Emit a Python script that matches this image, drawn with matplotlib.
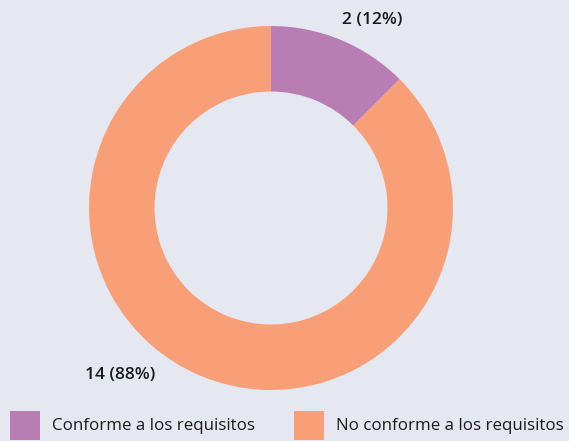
import matplotlib.pyplot as plt
from matplotlib.patches import Patch

# data
categories = ['Conforme a los requisitos', 'No conforme a los requisitos']
counts = [2, 14]
colors = ['#b87db2', '#f99f78']
labels = ['2 (12%)', '14 (88%)']

bg = '#e5e8f0'
plt.rcParams['font.family'] = ['Open Sans', 'DejaVu Sans']

fig = plt.figure(figsize=(5.69, 4.41), dpi=100, facecolor=bg)
W, H = 569, 441
cx, cy, r = 271, 208, 182
ax = fig.add_axes([(cx - r) / W, (H - cy - r) / H, 2 * r / W, 2 * r / H])
ax.set_facecolor(bg)

ax.pie(counts, colors=colors, startangle=90, counterclock=False,
       radius=1, wedgeprops=dict(width=0.36, edgecolor='none'))
ax.set_xlim(-1, 1)
ax.set_ylim(-1, 1)
ax.set_aspect('equal')
ax.axis('off')

# value labels
ax.text(0.555, 1.033, labels[0], ha='center', va='center', fontsize=12.5,
        fontweight='semibold', color='#1a1a1a', clip_on=False)
ax.text(-0.83, -0.918, labels[1], ha='center', va='center', fontsize=12.5,
        fontweight='semibold', color='#1a1a1a', clip_on=False)

handles = [Patch(facecolor=c, edgecolor='none') for c in colors]
leg = fig.legend(handles, categories, ncol=2, loc='lower left',
                 bbox_to_anchor=(0.005, -0.012), frameon=False, fontsize=12.2,
                 handlelength=1.8, handleheight=2.25, handletextpad=0.7,
                 columnspacing=2.3, borderaxespad=0)
for t in leg.get_texts():
    t.set_color('#1a1a1a')

fig.savefig('out.png', dpi=100, facecolor=bg)
